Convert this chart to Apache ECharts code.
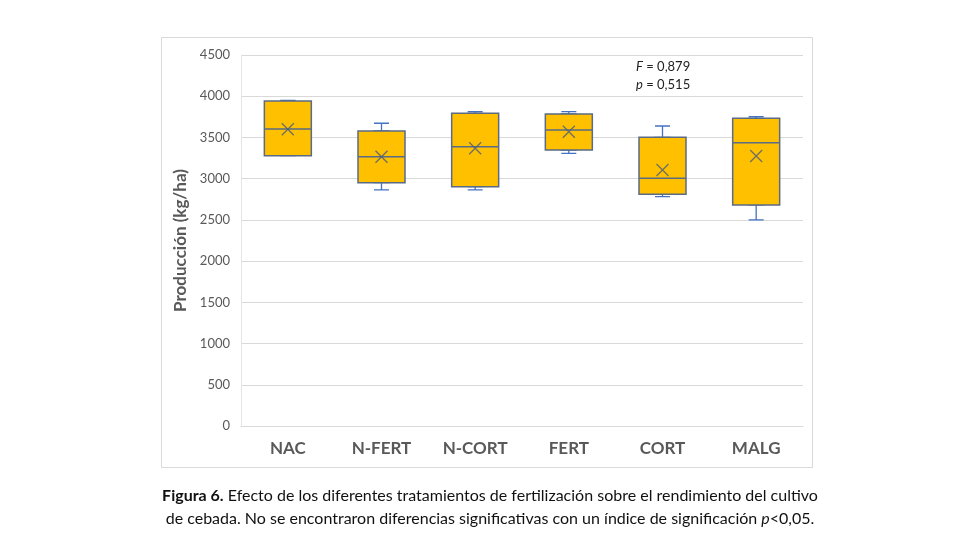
<!DOCTYPE html>
<html>
<head>
<meta charset="utf-8">
<script src="https://cdn.jsdelivr.net/npm/echarts@6/dist/echarts.min.js"></script>
<style>
  html, body { margin: 0; padding: 0; background: #fff; }
  #chart { width: 980px; height: 560px; }
</style>
</head>
<body>
<div id="chart"></div>
<script>
// tratamientos
var categories = ['NAC', 'N-FERT', 'N-CORT', 'FERT', 'CORT', 'MALG'];
// [min, Q1, mediana, Q3, max]
var minVals = [3279, 2863, 2863, 3307, 2782, 2499];
var q1Vals = [3279, 2951, 2903, 3348, 2810, 2681];
var medianVals = [3603, 3267, 3388, 3590, 3004, 3437];
var q3Vals = [3942, 3578, 3793, 3785, 3502, 3732];
var maxVals = [3950, 3672, 3813, 3813, 3639, 3752];
var meanVals = [3600, 3265, 3368, 3570, 3105, 3275];
var yTicks = { min: 0, max: 4500, step: 500 };

var boxData = categories.map(function (c, i) {
  return [minVals[i], q1Vals[i], medianVals[i], q3Vals[i], maxVals[i]];
});
// solo la caja (sin bigotes), se pinta encima con el borde gris
var boxOnly = categories.map(function (c, i) {
  return [q1Vals[i], q1Vals[i], medianVals[i], q3Vals[i], q3Vals[i]];
});

var myChart = echarts.init(document.getElementById('chart'));

myChart.setOption({
  backgroundColor: '#fff',
  animation: false,
  grid: { left: 241, right: 177, top: 55, bottom: 134 },
  xAxis: [{
    type: 'category',
    data: categories,
    axisLine: { lineStyle: { color: '#D9D9D9', width: 1 } },
    axisTick: { show: false },
    axisLabel: {
      margin: 14,
      color: '#595959',
      fontFamily: 'Lato',
      fontWeight: 'bold',
      fontSize: 17
    }
  }, {
    type: 'category',
    data: categories,
    show: false
  }],
  yAxis: {
    type: 'value',
    min: yTicks.min,
    max: yTicks.max,
    interval: yTicks.step,
    name: 'Producción (kg/ha)',
    nameLocation: 'middle',
    nameGap: 47,
    nameTextStyle: {
      color: '#595959',
      fontFamily: 'Lato',
      fontWeight: 'bold',
      fontSize: 17
    },
    axisLine: { show: true, lineStyle: { color: '#E6E6E6' } },
    axisTick: { show: false },
    axisLabel: {
      color: '#595959', fontFamily: 'Lato', fontSize: 13, margin: 11,
      formatter: function (v) { return String(v); }
    },
    splitLine: { lineStyle: { color: '#D9D9D9' } }
  },
  series: [{
    // bigotes con remates cortos
    type: 'boxplot',
    xAxisIndex: 0,
    data: boxData,
    boxWidth: [15, 15],
    itemStyle: { color: '#FFC000', borderColor: '#4472C4', borderWidth: 1.3 }
  }, {
    type: 'boxplot',
    xAxisIndex: 1,
    data: boxOnly,
    boxWidth: [47, 47],
    z: 3,
    itemStyle: { color: '#FFC000', borderColor: '#5A6B85', borderWidth: 1.5 }
  }, {
    type: 'scatter',
    xAxisIndex: 0,
    data: meanVals,
    z: 5,
    symbol: 'path://M0,0L10,10M10,0L0,10',
    symbolSize: 12,
    itemStyle: { color: 'none', borderColor: '#4A5C7A', borderWidth: 1.3 }
  }],
  graphic: [{
    type: 'rect',
    shape: { x: 161.5, y: 37.5, width: 651, height: 430 },
    style: { fill: 'none', stroke: '#D9D9D9', lineWidth: 1 },
    z: -1
  }, {
    type: 'text',
    left: 636,
    top: 58,
    style: {
      text: '{i|F} = 0,879\n{i|p} = 0,515',
      fontFamily: 'Lato',
      fontSize: 13,
      lineHeight: 18,
      fill: '#222',
      rich: { i: { fontStyle: 'italic', fontFamily: 'Lato', fontSize: 13, fill: '#222' } }
    }
  }, {
    type: 'text',
    left: 'center',
    top: 488,
    style: {
      text: '{b|Figura 6.} Efecto de los diferentes tratamientos de fertilización sobre el rendimiento del cultivo',
      fontFamily: 'Lato',
      fontSize: 16,
      fill: '#111',
      rich: { b: { fontWeight: 'bold', fontFamily: 'Lato', fontSize: 16, fill: '#111' } }
    }
  }, {
    type: 'text',
    left: 'center',
    top: 511,
    style: {
      text: 'de cebada. No se encontraron diferencias significativas con un índice de significación {i|p}<0,05.',
      fontFamily: 'Lato',
      fontSize: 16,
      fill: '#111',
      rich: { i: { fontStyle: 'italic', fontFamily: 'Lato', fontSize: 16, fill: '#111' } }
    }
  }]
});
</script>
</body>
</html>
